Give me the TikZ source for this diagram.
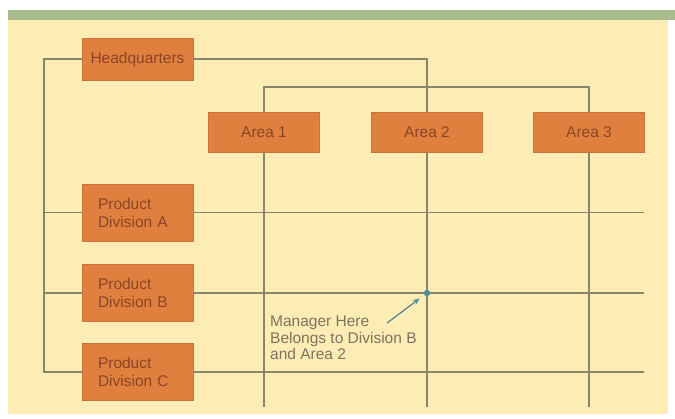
\documentclass[tikz,border=0pt]{standalone}
\usepackage{fontspec}
\setmainfont{Liberation Sans}
\usetikzlibrary{arrows.meta, positioning, calc}

\definecolor{cream}{HTML}{FDECB3}
\definecolor{band}{HTML}{A9BD8C}
\definecolor{boxfill}{HTML}{E0803F}
\definecolor{boxtext}{HTML}{8A4526}
\definecolor{gridline}{HTML}{85866A}
\definecolor{notetext}{HTML}{7A7560}
\definecolor{pointer}{HTML}{558C9A}

\tikzset{
  unitbox/.style={rectangle, fill=boxfill, draw=boxfill!90!black, line width=0.4pt,
    minimum width=111pt, font=\fontsize{15.5}{18}\selectfont, text=boxtext, inner sep=0pt},
  divbox/.style={unitbox, minimum height=57pt, align=left, text width=79pt},
  link/.style={draw=gridline, line width=1.4pt}
}

\begin{document}
\begin{tikzpicture}[x=1pt, y=-1pt]
    \useasboundingbox (0,0) rectangle (675,419);
    % Background
    \fill[white] (0,0) rectangle (675,419);
    \fill[cream] (8,10) rectangle (668,414);
    \fill[band] (8,10) rectangle (675,20);

    % Guide coordinates
    \coordinate (spine) at (44,0);
    \coordinate (bar) at (0,87);
    \coordinate (bottom) at (0,407);
    \coordinate (rightend) at (644,0);

    % Draw nodes
    \node[unitbox, minimum height=42pt] (hq) at (137.5,59) {Headquarters};
    \node[unitbox, minimum height=40pt] (area1) at (264,132) {Area 1};
    \node[unitbox, minimum height=40pt] (area2) at (427,132) {Area 2};
    \node[unitbox, minimum height=40pt] (area3) at (589,132) {Area 3};
    \node[divbox] (divA) at (137.5,212.5) {Product\\Division A};
    \node[divbox] (divB) at (137.5,293) {Product\\Division B};
    \node[divbox] (divC) at (137.5,372) {Product\\Division C};

    % Draw connections
    \draw[link] (hq.west) -- (hq.west -| spine) -- (divC.west -| spine) -- (divC.west);
    \draw[link] (divA.west -| spine) -- (divA.west);
    \draw[link] (divB.west -| spine) -- (divB.west);
    \draw[link] (hq.east) -| (area2.north);
    \draw[link] (area1.north) -- (area1.north |- bar) -| (area3.north);
    \foreach \a in {area1, area2, area3}
        \draw[link] (\a.south) -- (\a.south |- bottom);
    \foreach \d in {divA, divB, divC}
        \draw[link] (\d.east) -- (\d.east -| rightend);

    % Labels
    \coordinate (mgr) at (area2.south |- divB.east);
    \fill[pointer] (mgr) circle (3.2);
    \node[anchor=north west, align=left, text=notetext, inner sep=0pt,
        font=\fontsize{15.5}{16.5}\selectfont] (note) at (270,316)
        {Manager Here\\Belongs to Division B\\and Area 2};
    \coordinate (tail) at (387,323);
    \draw[pointer, line width=1.3pt, -{Stealth[length=7pt, width=5.5pt]}]
        (tail) -- ($(tail)!0.82!(mgr)$);
\end{tikzpicture}
\end{document}
